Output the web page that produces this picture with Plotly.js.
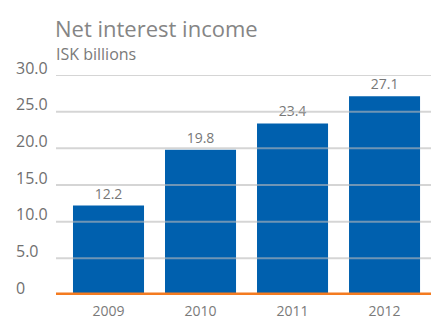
<!DOCTYPE html>
<html>
<head>
<meta charset="utf-8">
<script src="https://cdn.plot.ly/plotly-3.0.1.min.js"></script>
<style>html,body{margin:0;padding:0;background:#fff;}#chart{width:431px;height:320px;}</style>
</head>
<body>
<div id="chart"></div>
<script>
var years = ['2009', '2010', '2011', '2012'];
var income = [12.2, 19.8, 23.4, 27.1];
var yTickVals = [0, 5, 10, 15, 20, 25, 30];
var yTickText = ['0', '5.0', '10.0', '15.0', '20.0', '25.0', '30.0'];
var titleText = 'Net interest income';
var subtitleText = 'ISK billions';

var FONT = 'Open Sans, Lato, sans-serif';
var gridShapes = yTickVals.filter(function (v) { return v !== 0; }).map(function (v) {
  return {type: 'line', xref: 'x domain', x0: 0, x1: 1, yref: 'y', y0: v, y1: v,
          line: {color: 'rgba(185,185,185,0.6)', width: 2}, layer: 'above'};
});
gridShapes.push({type: 'line', xref: 'x domain', x0: 0, x1: 1, yref: 'y', y0: 0, y1: 0,
                 line: {color: '#f47b20', width: 5}, layer: 'above'});

var trace = {
  type: 'bar', x: years, y: income,
  marker: {color: '#0060ae', line: {width: 0}},
  text: income.map(function (v) { return v.toFixed(1); }),
  textposition: 'outside', cliponaxis: false,
  textfont: {family: FONT, size: 14, color: '#777777'},
  hoverinfo: 'none'
};

var layout = {
  width: 431, height: 320,
  margin: {l: 10, r: 0, t: 75, b: 25},
  paper_bgcolor: '#ffffff', plot_bgcolor: '#ffffff',
  showlegend: false,
  bargap: 0.228,
  xaxis: {
    type: 'category', domain: [46 / 421, 1], range: [-0.5707, 3.505],
    showgrid: false, zeroline: false, showline: false, ticks: '',
    ticklabelstandoff: 6,
    tickfont: {family: FONT, size: 14, color: '#7a7a7a'}, fixedrange: true
  },
  yaxis: {
    range: [0, 30], tickvals: yTickVals, ticktext: yTickText,
    side: 'right', anchor: 'free', position: 0,
    showgrid: false, zeroline: false, showline: false, ticks: '',
    ticklabelshift: -7, ticklabelstandoff: 5,
    tickfont: {family: FONT, size: 16, color: '#707070'}, fixedrange: true
  },
  shapes: gridShapes,
  annotations: [
    {text: titleText, xref: 'x domain', x: 0, xshift: -3, xanchor: 'left',
     yref: 'paper', y: (295 - 28) / 220, yanchor: 'middle', showarrow: false,
     font: {family: FONT, size: 22, color: '#858585'}},
    {text: subtitleText, xref: 'x domain', x: 0, xshift: -2, xanchor: 'left',
     yref: 'paper', y: (295 - 54) / 220, yanchor: 'middle', showarrow: false,
     font: {family: FONT, size: 16, color: '#7a7a7a'}}
  ]
};

Plotly.newPlot('chart', [trace], layout, {staticPlot: true, displayModeBar: false});
</script>
</body>
</html>
